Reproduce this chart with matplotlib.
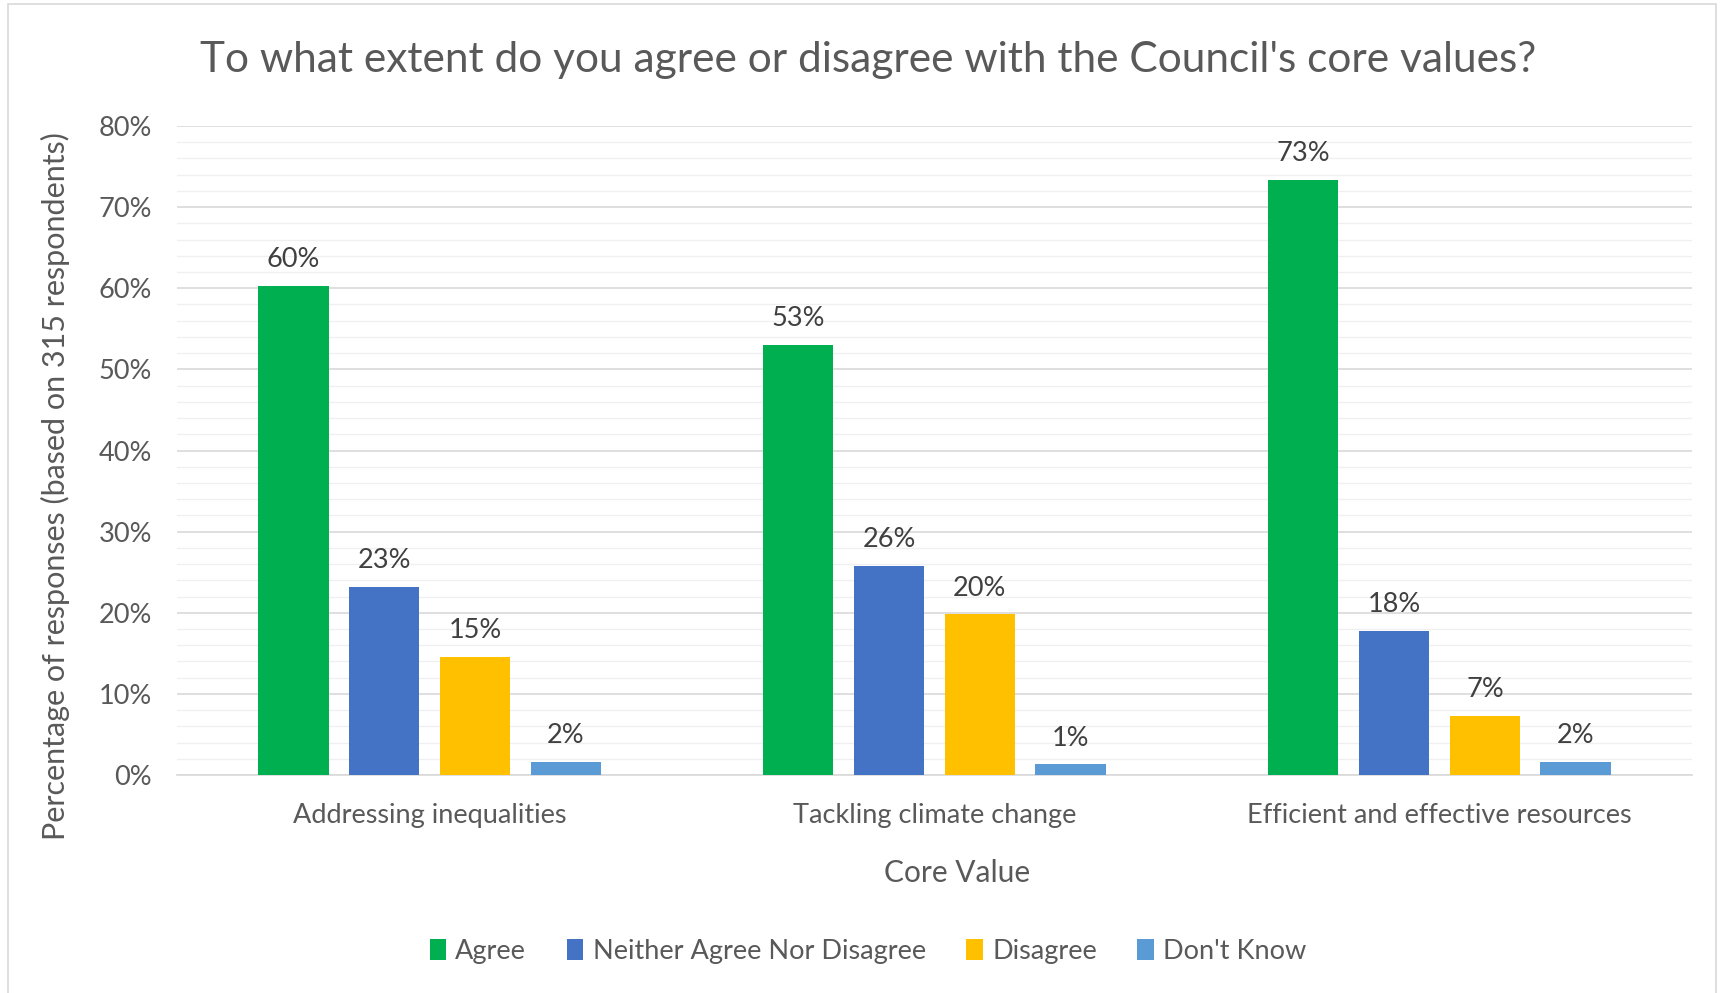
# bar chart of agreement with the Council's core values, by response type

import matplotlib
matplotlib.use("agg")
import matplotlib.pyplot as plt
import numpy as np

categories = ["Addressing inequalities", "Tackling climate change", "Efficient and effective resources"]
series_names = ["Agree", "Neither Agree Nor Disagree", "Disagree", "Don't Know"]
agree = [60.3, 53.0, 73.3]
neither = [23.2, 25.8, 17.8]
disagree = [14.6, 19.8, 7.3]
dont_know = [1.6, 1.3, 1.6]
yticks = [0, 10, 20, 30, 40, 50, 60, 70, 80]

colors = ["#00B050", "#4472C4", "#FFC000", "#5B9BD5"]
text_color = "#595959"

plt.rcParams["font.family"] = ["Lato", "DejaVu Sans"]


def main():
    fig = plt.figure(figsize=(17.36, 9.93), dpi=100)
    ax = fig.add_axes([0.102, 0.2195, 0.8726, 0.6536])

    x = np.arange(len(categories))
    width = 0.14
    step = 0.18
    all_series = [agree, neither, disagree, dont_know]
    for i, (name, vals) in enumerate(zip(series_names, all_series)):
        pos = x + (i - 1.5) * step
        bars = ax.bar(pos, vals, width, color=colors[i], label=name, zorder=3)
        for b, v in zip(bars, vals):
            ax.annotate(f"{v:.0f}%", (b.get_x() + b.get_width() / 2, v),
                        xytext=(0, 10), textcoords="offset points",
                        ha="center", va="bottom", fontsize=19.5, color="#404040")

    ax.set_xlim(-0.5, 2.5)
    ax.set_ylim(0, 80)
    ax.set_yticks(yticks)
    ax.set_yticklabels([f"{t}%" for t in yticks])
    ax.set_yticks(np.arange(0, 81, 2), minor=True)
    ax.grid(axis="y", which="major", color="#D9D9D9", linewidth=1.2, zorder=0)
    ax.grid(axis="y", which="minor", color="#F0F0F0", linewidth=1.0, zorder=0)
    ax.set_xticks(x)
    ax.set_xticklabels(categories)
    ax.tick_params(axis="both", which="both", length=0, labelsize=19.5, colors=text_color)
    ax.tick_params(axis="x", pad=20)
    ax.tick_params(axis="y", pad=18)
    for s in ["top", "right", "left"]:
        ax.spines[s].set_visible(False)
    ax.spines["bottom"].set_color("#D9D9D9")
    ax.spines["bottom"].set_linewidth(1.2)

    ax.set_xlabel("Core Value", fontsize=21.5, color=text_color)
    ax.xaxis.set_label_coords(0.515, -0.13)
    ax.set_ylabel("Percentage of responses (based on 315 respondents)", fontsize=22,
                  color=text_color)
    ax.yaxis.set_label_coords(-0.071, 0.445)
    fig.text(0.5, 0.940, "To what extent do you agree or disagree with the Council's core values?",
             ha="center", va="center", fontsize=30.5, color=text_color)

    fig.legend(loc="center", bbox_to_anchor=(0.5, 0.042), ncol=4, frameon=False,
               fontsize=19.5, labelcolor=text_color, handlelength=0.6, handleheight=0.8,
               handletextpad=0.35, columnspacing=1.5)

    # chart area border
    border = plt.Rectangle((8 / 1736, -0.01), 1708 / 1736, 1.01 - 4 / 993, transform=fig.transFigure,
                           fill=False, edgecolor="#D9D9D9", linewidth=1.2)
    fig.patches.append(border)

    fig.savefig("out.png", dpi=100)


if __name__ == "__main__":
    main()
